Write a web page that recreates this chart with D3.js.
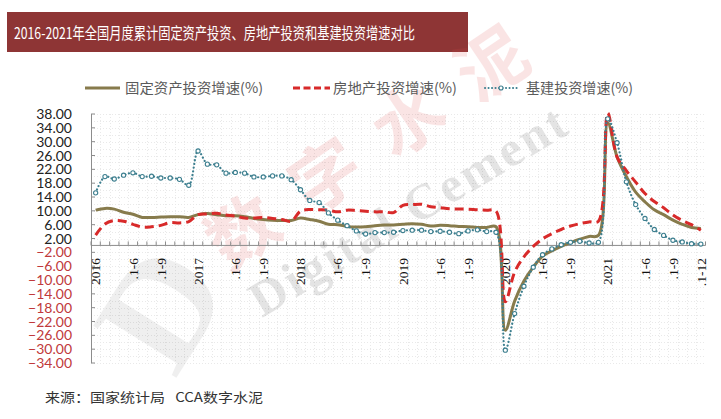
<!DOCTYPE html>
<html><head><meta charset="utf-8">
<script src="https://cdn.jsdelivr.net/npm/d3@7"></script>
<style>
html,body{margin:0;padding:0;background:#fff;}
svg{display:block;}
</style></head>
<body>
<svg id="c" width="721" height="419"></svg>
<script>
// ---------- DATA ----------
const years = [2016, 2017, 2018, 2019, 2020, 2021];
const months = ["1-2","1-3","1-4","1-5","1-6","1-7","1-8","1-9","1-10","1-11","1-12"];
const categories = years.flatMap(y => months.map(m => y + "." + m));

const fixedAsset = [
  10.2, 10.7, 10.5, 9.6, 9.0, 8.1, 8.1, 8.2, 8.3, 8.3, 8.1,
  8.9, 9.2, 8.9, 8.6, 8.6, 8.3, 7.8, 7.5, 7.3, 7.2, 7.2,
  7.9, 7.5, 7.0, 6.1, 6.0, 5.5, 5.3, 5.4, 5.7, 5.9, 5.9,
  6.1, 6.3, 6.1, 5.6, 5.8, 5.7, 5.5, 5.4, 5.2, 5.2, 5.4,
  -24.5, -16.1, -10.3, -6.3, -3.1, -1.6, -0.3, 0.8, 1.8, 2.6, 2.9,
  35.5, 25.6, 19.9, 15.4, 12.6, 10.3, 8.9, 7.3, 6.1, 5.2, 4.9
];
const realEstate = [
  3.0, 6.2, 7.2, 7.0, 6.1, 5.3, 5.4, 5.8, 6.6, 6.5, 6.9,
  8.9, 9.1, 9.3, 8.8, 8.5, 7.9, 7.9, 8.1, 7.8, 7.5, 7.0,
  9.9, 10.4, 10.3, 10.2, 9.7, 10.2, 10.1, 9.9, 9.7, 9.7, 9.5,
  11.6, 11.8, 11.9, 11.2, 10.9, 10.6, 10.5, 10.5, 10.3, 10.2, 9.9,
  -16.3, -7.7, -3.3, -0.3, 1.9, 3.4, 4.6, 5.6, 6.3, 6.8, 7.0,
  38.3, 25.6, 21.6, 18.3, 15.0, 12.7, 10.9, 8.8, 7.2, 6.0, 4.4
];
const infra = [
  15.2, 19.9, 19.2, 20.3, 21.0, 19.9, 20.0, 19.5, 19.5, 19.1, 17.4,
  27.3, 23.5, 23.3, 20.9, 21.1, 20.9, 19.8, 19.8, 20.1, 20.1, 19.0,
  16.1, 13.0, 12.4, 9.4, 7.3, 5.7, 4.2, 3.3, 3.7, 3.7, 3.8,
  4.3, 4.4, 4.4, 4.0, 4.1, 3.8, 3.4, 4.2, 4.5, 4.0, 3.8,
  -30.3, -19.7, -11.8, -6.3, -2.7, -1.0, 0.2, 0.9, 1.2, 0.7, 0.9,
  36.6, 29.7, 18.4, 11.8, 7.8, 4.6, 2.9, 1.5, 1.0, 0.5, 0.4
];
const seriesNames = ["固定资产投资增速(%)", "房地产投资增速(%)", "基建投资增速(%)"];
const xTickCats = ["2016.1-2","2016.1-6","2016.1-9","2017.1-2","2017.1-6","2017.1-9",
  "2018.1-2","2018.1-6","2018.1-9","2019.1-2","2019.1-6","2019.1-9",
  "2020.1-2","2020.1-6","2020.1-9","2021.1-2","2021.1-6","2021.1-9","2021.1-12"];
const xTickText = ["2016",".1-6",".1-9","2017",".1-6",".1-9","2018",".1-6",".1-9",
  "2019",".1-6",".1-9","2020",".1-6",".1-9","2021",".1-6",".1-9",".1-12"];
const yTicks = d3.range(-34, 39, 4);
const titleText = "2016-2021年全国月度累计固定资产投资、房地产投资和基建投资增速对比";
const sourceText = "来源：国家统计局   CCA数字水泥";

// ---------- CHART ----------
const svg = d3.select("#c");
const colors = ["#877b4c", "#d82a2a", "#3d7f8f"];
const cjk = "'Noto Sans CJK SC', 'Noto Sans', sans-serif";

const x = d3.scaleBand().domain(categories).range([91, 705.5]).paddingInner(0).paddingOuter(0);
const xc = c => x(c) + x.bandwidth() / 2;
const y = d3.scaleLinear().domain([-34, 38]).range([363, 114]);

// title bar
svg.append("rect").attr("x", 7).attr("y", 12).attr("width", 461).attr("height", 40).attr("fill", "#8e3535");
svg.append("text").attr("x", 14).attr("y", 38.5).attr("fill", "#fff")
  .attr("font-family", cjk).attr("font-size", 16)
  .attr("textLength", 401).attr("lengthAdjust", "spacingAndGlyphs")
  .text(titleText);

// grid
const grid = svg.append("g").attr("stroke", "#e9e9e9").attr("stroke-width", 1).attr("stroke-dasharray", "1,2");
d3.range(-34, 39, 2).forEach(v => {
  grid.append("line").attr("x1", 91).attr("x2", 705).attr("y1", Math.round(y(v)) + 0.5).attr("y2", Math.round(y(v)) + 0.5);
});
categories.forEach(c => {
  grid.append("line").attr("x1", Math.round(x(c)) + 0.5).attr("x2", Math.round(x(c)) + 0.5).attr("y1", 114).attr("y2", 363);
});

// watermark
const wm = svg.append("g").attr("pointer-events", "none");
wm.append("text").attr("transform", "translate(175,380) rotate(-58)")
  .attr("font-family", "'Liberation Serif', serif").attr("font-weight", "bold").attr("font-size", 150)
  .attr("fill", "#000").attr("opacity", 0.06).text("D");
wm.append("text").attr("transform", "translate(228,272) rotate(-34)")
  .attr("font-family", cjk).attr("font-weight", "bold").attr("font-size", 70)
  .attr("fill", "#e04a4a").attr("opacity", 0.14)
  .attr("textLength", 370).attr("lengthAdjust", "spacing").text("数字水泥");
wm.append("text").attr("transform", "translate(262,318) rotate(-31)")
  .attr("font-family", "'Liberation Serif', serif").attr("font-weight", "bold").attr("font-size", 50)
  .attr("fill", "#000").attr("opacity", 0.1)
  .attr("textLength", 360).attr("lengthAdjust", "spacing").text("Digital Cement");

// axes
const axG = svg.append("g");
axG.append("line").attr("x1", 91.5).attr("x2", 91.5).attr("y1", 114).attr("y2", 363).attr("stroke", "#8c8c8c");
yTicks.forEach(v => {
  axG.append("line").attr("x1", 91).attr("x2", 95).attr("y1", y(v)).attr("y2", y(v)).attr("stroke", "#8c8c8c");
  axG.append("text").attr("x", 72).attr("y", y(v)).attr("dy", "0.36em").attr("text-anchor", "end")
    .attr("font-family", "Lato, 'Open Sans', sans-serif").attr("font-size", 14)
    .attr("fill", v < 0 ? "#c0393b" : "#222").text(d3.format(".2f")(v));
});
const y0 = y(0);
axG.append("line").attr("x1", 91).attr("x2", 705.5).attr("y1", y0).attr("y2", y0).attr("stroke", "#8c8c8c");
categories.concat(["end"]).forEach((c, i) => {
  const px = i < categories.length ? x(c) : 705.5;
  axG.append("line").attr("x1", px).attr("x2", px).attr("y1", y0).attr("y2", y0 - 4).attr("stroke", "#8c8c8c");
});
xTickCats.forEach((c, i) => {
  axG.append("text").attr("transform", `translate(${xc(c)},258) rotate(-90)`)
    .attr("text-anchor", "end").attr("dy", "0.35em")
    .attr("font-family", "'Liberation Serif', serif").attr("font-size", 13.5).attr("fill", "#111")
    .text(xTickText[i]);
});

// lines
const line = d3.line().x((d, i) => xc(categories[i])).y(d => y(d)).curve(d3.curveCatmullRom.alpha(0.5));
svg.append("path").attr("d", line(fixedAsset)).attr("fill", "none").attr("stroke", colors[0]).attr("stroke-width", 3);
svg.append("path").attr("d", line(realEstate)).attr("fill", "none").attr("stroke", colors[1]).attr("stroke-width", 3)
  .attr("stroke-dasharray", "9,5");
svg.append("path").attr("d", line(infra)).attr("fill", "none").attr("stroke", colors[2]).attr("stroke-width", 2.2)
  .attr("stroke-dasharray", "0.1,3.6").attr("stroke-linecap", "round");
svg.append("g").selectAll("circle").data(infra).join("circle")
  .attr("cx", (d, i) => xc(categories[i])).attr("cy", d => y(d)).attr("r", 2.1)
  .attr("fill", "#fff").attr("stroke", colors[2]).attr("stroke-width", 1.1);

// legend
const lg = svg.append("g");
const legendItems = [
  {x1: 85, x2: 120, tx: 125, tw: 138},
  {x1: 293, x2: 330, tx: 333, tw: 124},
  {x1: 485, x2: 517, tx: 526, tw: 107}
];
legendItems.forEach((it, i) => {
  const l = lg.append("line").attr("x1", it.x1).attr("x2", it.x2).attr("y1", 88).attr("y2", 88).attr("stroke", colors[i]);
  if (i === 0) l.attr("stroke-width", 3);
  if (i === 1) l.attr("stroke-width", 3).attr("stroke-dasharray", "7,3.5");
  if (i === 2) {
    l.attr("stroke-width", 2).attr("stroke-dasharray", "0.1,3.4").attr("stroke-linecap", "round");
    lg.append("circle").attr("cx", (it.x1 + it.x2) / 2).attr("cy", 88).attr("r", 2)
      .attr("fill", "#fff").attr("stroke", colors[2]).attr("stroke-width", 1.1);
  }
  lg.append("text").attr("x", it.tx).attr("y", 93).attr("font-family", cjk).attr("font-size", 14)
    .attr("fill", "#5a5a5a").attr("textLength", it.tw).attr("lengthAdjust", "spacingAndGlyphs")
    .text(seriesNames[i]);
});

// source
svg.append("text").attr("x", 45).attr("y", 402).attr("font-family", cjk).attr("font-size", 13)
  .attr("fill", "#333").attr("textLength", 218).attr("lengthAdjust", "spacingAndGlyphs")
  .attr("xml:space", "preserve").style("white-space", "pre").text(sourceText);
</script>
</body></html>
